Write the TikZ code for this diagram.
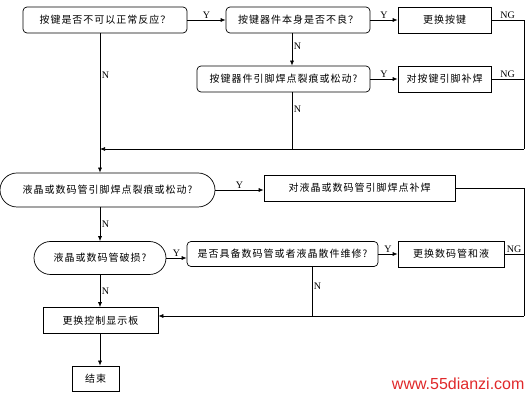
\documentclass[tikz,border=0pt]{standalone}
\usepackage{fontspec}
\setmainfont{Liberation Serif}
\newfontfamily\cjkfont[LetterSpace=10]{Noto Sans CJK SC}
\newfontfamily\wmfont{Liberation Sans}
\usepackage{tikz}
\usetikzlibrary{arrows.meta,shapes.misc}
\definecolor{FlowInk}{HTML}{000000}
\definecolor{WaterRed}{HTML}{E0282A}

\begin{document}
\begin{tikzpicture}[
  x=1pt,
  y=-1pt,
  font=\cjkfont\fontsize{10}{12}\selectfont,
  box/.style={
    draw=FlowInk,
    align=center,
    inner sep=1pt,
    line width=0.7pt,
    minimum height=26pt,
    fill=white
  },
  roundbox/.style={box, rounded corners=4pt},
  ovalbox/.style={box, rounded rectangle},
  arrow/.style={-{Latex[length=5pt,width=4pt]}, line width=0.7pt, draw=FlowInk},
  link/.style={line width=0.7pt, draw=FlowInk},
  lab/.style={font=\rmfamily\fontsize{10}{11}\selectfont, inner sep=1.5pt}
]
\useasboundingbox (0,0) rectangle (531,403);

\coordinate (spine) at (100,0);
\coordinate (col2) at (292,0);
\coordinate (rt1) at (524,149);
\coordinate (rt2) at (524,316);
\coordinate (n7) at (312,316);

\node[roundbox, minimum width=164pt] (keyresp) at (105,20) {按键是否不可以正常反应？};
\node[roundbox, minimum width=144pt] (keybad) at (298,20) {按键器件本身是否不良？};
\node[box, minimum width=93pt] (swapkey) at (444.5,20) {更换按键};
\node[roundbox, minimum width=173pt] (keypin) at (283.5,79) {按键器件引脚焊点裂痕或松动?};
\node[box, minimum width=93pt] (fixkey) at (444.5,79) {对按键引脚补焊};
\node[ovalbox, minimum width=217pt, minimum height=34pt] (lcdpin) at (107.5,190) {液晶或数码管引脚焊点裂痕或松动?};
\node[box, minimum width=191pt] (fixlcd) at (359.5,188) {对液晶或数码管引脚焊点补焊};
\node[ovalbox, minimum width=134pt, minimum height=33pt] (lcdbroken) at (100,258) {液晶或数码管破损?};
\node[roundbox, minimum width=191pt, minimum height=25pt] (spare) at (282.5,254) {是否具备数码管或者液晶散件维修?};
\node[box, minimum width=106pt] (swaplcd) at (451,254) {更换数码管和液};
\node[box, minimum width=115pt] (swapboard) at (100.5,320.5) {更换控制显示板};
\node[box, minimum width=47pt, minimum height=25pt] (finish) at (95.5,378.5) {结束};

\node[font=\wmfont\fontsize{16}{18}\selectfont, text=WaterRed, anchor=east] (mark) at (528,384) {www.55dianzi.com};

\draw[arrow] (keyresp) -- node[lab, above] {Y} (keybad);
\draw[arrow] (keybad) -- node[lab, above] {Y} (swapkey);
\draw[arrow] (keypin) -- node[lab, above] {Y} (fixkey);
\draw[arrow] (keybad.south -| col2) -- node[lab, right, pos=0.4] {N} (keypin.north -| col2);
\draw[link] (swapkey.east) -- node[lab, above] {NG} (swapkey.east -| rt1) -- (rt1);
\draw[link] (fixkey.east) -- node[lab, above] {NG} (fixkey.east -| rt1);
\draw[link] (keypin.south -| col2) -- node[lab, right, pos=0.3] {N} (rt1 -| col2);
\draw[arrow] (rt1) -- (rt1 -| spine);
\draw[arrow] (keyresp.south -| spine) -- node[lab, right, pos=0.3] {N} (lcdpin.north -| spine);

\draw[arrow] (lcdpin.east) -- node[lab, above] {Y} (lcdpin.east -| fixlcd.west);
\draw[arrow] (lcdpin.south -| spine) -- node[lab, right] {N} (lcdbroken.north);
\draw[arrow] (lcdbroken.east) -- node[lab, above] {Y} (lcdbroken.east -| spare.west);
\draw[arrow] (spare) -- node[lab, above] {Y} (swaplcd);
\draw[link] (fixlcd.east) -| (rt2);
\draw[link] (swaplcd.east) -- node[lab, above] {NG} (swaplcd.east -| rt2);
\draw[link] (n7 |- spare.south) -- node[lab, right, pos=0.4] {N} (n7);
\draw[arrow] (rt2) -- (rt2 -| swapboard.east);
\draw[arrow] (lcdbroken.south) -- node[lab, right] {N} (swapboard.north -| lcdbroken.south);
\draw[arrow] (swapboard.south -| spine) -- (finish.north -| spine);
\end{tikzpicture}
\end{document}
